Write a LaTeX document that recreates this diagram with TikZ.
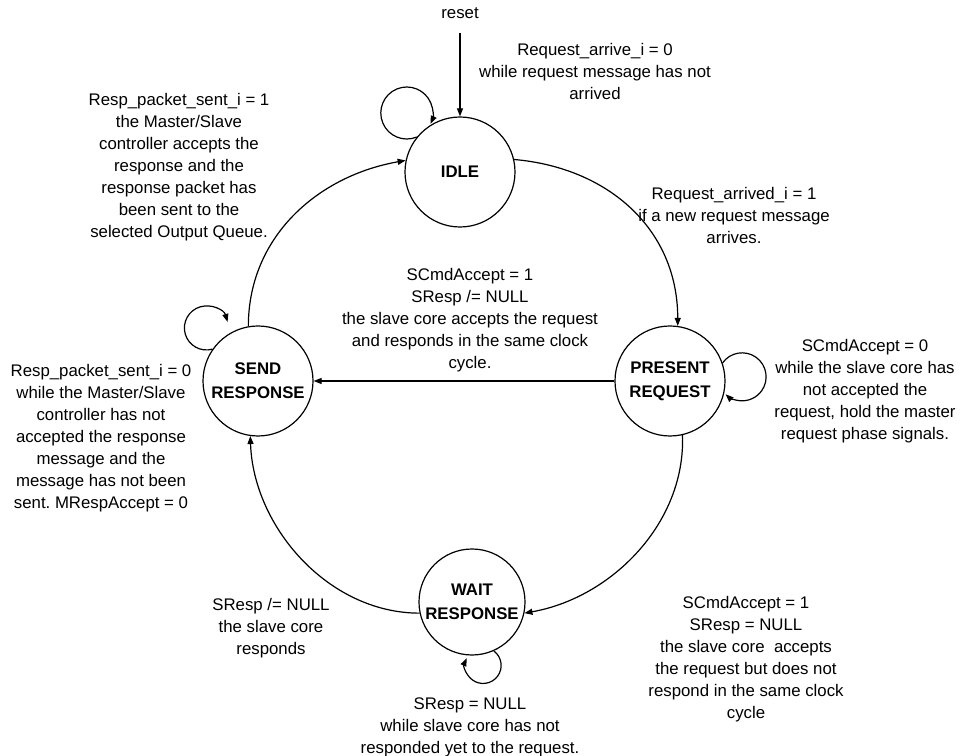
\documentclass[tikz,border=0pt]{standalone}
\usepackage{fontspec}
\setmainfont{Liberation Sans}
\usetikzlibrary{arrows.meta}
\frenchspacing
\begin{document}
\begin{tikzpicture}[x=1pt,y=1pt,
  txt/.style={font=\fontsize{16.8}{22}\selectfont,align=center,inner sep=0pt},
  state/.style={circle,draw,line width=1.2pt,minimum size=110pt,inner sep=0pt,
    align=center,font=\fontsize{16.8}{24}\selectfont\bfseries},
  edge/.style={line width=1.2pt,-{Triangle[length=8pt,width=6pt]}}]
% canvas
\fill[white] (0,0) rectangle (960,755);
\path[use as bounding box] (0,0) rectangle (960,755);

% states
\node[state] (idle) at (460,583) {IDLE};
\node[state] (present) at (670,374) {PRESENT\\REQUEST};
\node[state] (send) at (258,374) {SEND\\RESPONSE};
\node[state,minimum size=106pt] (wait) at (472,153) {WAIT\\RESPONSE};

% reset entry
\node[txt] (reset) at (460,742) {reset};
\draw[edge,shorten <=14pt] (reset.south) -- (idle.north);

% transitions
\draw[edge] (idle.13) to[out=-5,in=90,looseness=1.05] (present.82);
\draw[edge] (present.west) -- (send.east);
\draw[edge] (present.-77) to[out=-88,in=10,looseness=0.95] (wait.-12);
\draw[edge] (wait.192) to[out=180,in=-88,looseness=0.95] (send.-98);
\draw[edge] (send.100) to[out=90,in=190,looseness=1.0] (idle.168);

% self loops
\draw[edge] (idle.141) arc[start angle=-67.4,end angle=-384.6,radius=26];
\draw[edge] (send.145) arc[start angle=-74,end angle=-344,radius=22];
\draw[edge] (present.19) arc[start angle=144.5,end angle=-133.5,radius=24];
\draw[edge] (wait.-66) arc[start angle=53.7,end angle=-204,radius=18];

% transition labels
\node[txt] (l1) at (595,683.5) {Request\_arrive\_i = 0\\while request message has not\\arrived};
\node[txt] (l2) at (179,588) {Resp\_packet\_sent\_i = 1\\the Master/Slave\\controller accepts the\\response and the\\response packet has\\been sent to the\\selected Output Queue.};
\node[txt] (l3) at (734,539.5) {Request\_arrived\_i = 1\\if a new request message\\arrives.};
\node[txt] (l4) at (470,435) {SCmdAccept = 1\\SResp /= NULL\\the slave core accepts the request\\and responds in the same clock\\cycle.};
\node[txt] (l5) at (865,364) {SCmdAccept = 0\\while the slave core has\\not accepted the\\request, hold the master\\request phase signals.};
\node[txt] (l6) at (101,316.5) {Resp\_packet\_sent\_i = 0\\while the Master/Slave\\controller has not\\accepted the response\\message and the\\message has not been\\sent. MRespAccept = 0};
\node[txt] (l7) at (271,127) {SResp /= NULL\\the slave core\\responds};
\node[txt] (l8) at (746,96) {SCmdAccept = 1\\SResp = NULL\\the slave core\ \ accepts\\the request but does not\\respond in the same clock\\cycle};
\node[txt] (l9) at (470,28) {SResp = NULL\\while slave core has not\\responded yet to the request.};
\end{tikzpicture}
\end{document}
